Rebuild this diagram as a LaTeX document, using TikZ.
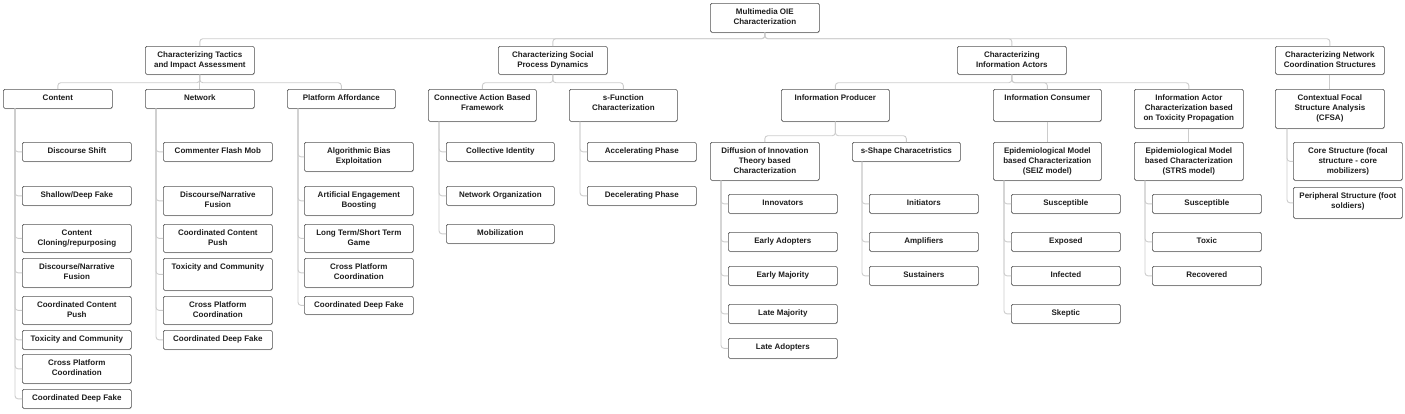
\documentclass[tikz,border=0pt]{standalone}
\usepackage{fontspec}
\setmainfont{Liberation Sans}
\usetikzlibrary{shadows}
\definecolor{boxline}{HTML}{555555}
\definecolor{connline}{HTML}{CCCCCC}
\definecolor{txt}{HTML}{1E1E1E}
\newcommand\mybox[6]{\node[nbox,anchor=north west] (#1) at (#2,#3) {\parbox[c][#5pt][t]{#4pt}{\centering\rule{0pt}{11.3pt}#6}};}
\begin{document}
\begin{tikzpicture}[x=1pt,y=-1pt,
  nbox/.style={draw=boxline,fill=white,line width=0.7pt,rounded corners=1.5pt,inner sep=0pt,
    font=\fontsize{8}{10}\selectfont\bfseries,text=txt,
    drop shadow={shadow xshift=0.3pt,shadow yshift=-0.8pt,fill=black,opacity=0.2}},
  conn/.style={draw=connline,line width=0.9pt,rounded corners=3pt}]
\useasboundingbox (0,0) rectangle (1405,413);
% root and level 1
\mybox{root}{710}{3}{109}{29}{Multimedia OIE\\Characterization}
\mybox{t1}{145}{46}{109}{28}{Characterizing Tactics\\and Impact Assessment}
\mybox{t2}{498}{46}{109}{28}{Characterizing Social\\Process Dynamics}
\mybox{t3}{957}{46}{109}{28}{Characterizing\\Information Actors}
\mybox{t4}{1275}{46}{109}{28}{Characterizing Network\\Coordination Structures}
% level 2
\mybox{c}{3}{89}{109}{19}{Content}
\mybox{n}{145}{89}{109}{19}{Network}
\mybox{pa}{287}{89}{108}{19}{Platform Affordance}
\mybox{ca}{428}{89}{108}{32}{Connective Action Based\\Framework}
\mybox{sf}{569}{89}{108}{32}{s-Function\\Characterization}
\mybox{ip}{781}{89}{108}{32}{Information Producer}
\mybox{ic}{993}{89}{108}{32}{Information Consumer}
\mybox{it}{1134}{89}{109}{39}{Information Actor\\Characterization based\\on Toxicity Propagation}
\mybox{cf}{1275}{89}{109}{39}{Contextual Focal\\Structure Analysis\\(CFSA)}
% level 3
\mybox{di}{710}{142}{109}{38}{Diffusion of Innovation\\Theory based\\Characterization}
\mybox{ss}{852}{142}{108}{19}{s-Shape Characetristics}
\mybox{seiz}{993}{142}{108}{38}{Epidemiological Model\\based Characterization\\(SEIZ model)}
\mybox{strs}{1134}{142}{109}{38}{Epidemiological Model\\based Characterization\\(STRS model)}
% content leaves
\mybox{c1}{22}{142}{109}{19}{Discourse Shift}
\mybox{c2}{22}{186}{109}{19}{Shallow/Deep Fake}
\mybox{c3}{22}{224}{109}{28}{Content\\Cloning/repurposing}
\mybox{c4}{22}{258}{109}{29}{Discourse/Narrative\\Fusion}
\mybox{c5}{22}{296}{109}{28}{Coordinated Content\\Push}
\mybox{c6}{22}{330}{109}{19}{Toxicity and Community}
\mybox{c7}{22}{354}{109}{29}{Cross Platform\\Coordination}
\mybox{c8}{22}{389}{109}{19}{Coordinated Deep Fake}
% network leaves
\mybox{n1}{163}{142}{109}{19}{Commenter Flash Mob}
\mybox{n2}{163}{186}{109}{29}{Discourse/Narrative\\Fusion}
\mybox{n3}{163}{224}{109}{28}{Coordinated Content\\Push}
\mybox{n4}{163}{258}{109}{32}{Toxicity and Community}
\mybox{n5}{163}{296}{109}{28}{Cross Platform\\Coordination}
\mybox{n6}{163}{330}{109}{19}{Coordinated Deep Fake}
% platform leaves
\mybox{p1}{304}{142}{109}{29}{Algorithmic Bias\\Exploitation}
\mybox{p2}{304}{186}{109}{29}{Artificial Engagement\\Boosting}
\mybox{p3}{304}{224}{109}{28}{Long Term/Short Term\\Game}
\mybox{p4}{304}{258}{109}{29}{Cross Platform\\Coordination}
\mybox{p5}{304}{296}{109}{18}{Coordinated Deep Fake}
% connective action leaves
\mybox{a1}{446}{142}{108}{19}{Collective Identity}
\mybox{a2}{446}{186}{108}{19}{Network Organization}
\mybox{a3}{446}{224}{108}{19}{Mobilization}
% s-function leaves
\mybox{s1}{587}{142}{109}{19}{Accelerating Phase}
\mybox{s2}{587}{186}{109}{19}{Decelerating Phase}
% diffusion leaves
\mybox{d1}{728}{194}{109}{19}{Innovators}
\mybox{d2}{728}{232}{109}{19}{Early Adopters}
\mybox{d3}{728}{266}{109}{19}{Early Majority}
\mybox{d4}{728}{304}{109}{19}{Late Majority}
\mybox{d5}{728}{338}{109}{20}{Late Adopters}
% s-shape leaves
\mybox{h1}{869}{194}{109}{19}{Initiators}
\mybox{h2}{869}{232}{109}{19}{Amplifiers}
\mybox{h3}{869}{266}{109}{19}{Sustainers}
% SEIZ leaves
\mybox{e1}{1011}{194}{109}{19}{Susceptible}
\mybox{e2}{1011}{232}{109}{19}{Exposed}
\mybox{e3}{1011}{266}{109}{19}{Infected}
\mybox{e4}{1011}{304}{109}{19}{Skeptic}
% STRS leaves
\mybox{r1}{1152}{194}{109}{19}{Susceptible}
\mybox{r2}{1152}{232}{109}{19}{Toxic}
\mybox{r3}{1152}{266}{109}{19}{Recovered}
% CFSA leaves
\mybox{f1}{1293}{142}{109}{38}{Core Structure (focal\\structure - core\\mobilizers)}
\mybox{f2}{1293}{187}{109}{31}{Peripheral Structure (foot\\soldiers)}
% tree connectors
\foreach \k in {t1,t2,t3,t4}
  \draw[conn] (root.south) -- ([yshift=-6pt]root.south) -| (\k.north);
\foreach \k in {c,pa}
  \draw[conn] (t1.south) -- ([yshift=-8pt]t1.south) -| (\k.north);
\draw[conn] (t1.south) -- (n.north);
\foreach \k in {ca,sf}
  \draw[conn] (t2.south) -- ([yshift=-8pt]t2.south) -| (\k.north);
\foreach \k in {ip,ic,it}
  \draw[conn] (t3.south) -- ([yshift=-8pt]t3.south) -| (\k.north);
\draw[conn] (t4.south) -- (cf.north);
\foreach \k in {di,ss}
  \draw[conn] (ip.south) -- ([yshift=-14pt]ip.south) -| (\k.north);
\draw[conn] (ic.south) -- (seiz.north);
\draw[conn] (it.south) -- (strs.north);
% list connectors
\foreach \k in {c1,c2,c3,c4,c5,c6,c7,c8}
  \draw[conn] ([xshift=12pt]c.south west) |- (\k.west);
\foreach \k in {n1,n2,n3,n4,n5,n6}
  \draw[conn] ([xshift=11pt]n.south west) |- (\k.west);
\foreach \k in {p1,p2,p3,p4,p5}
  \draw[conn] ([xshift=11pt]pa.south west) |- (\k.west);
\foreach \k in {a1,a2,a3}
  \draw[conn] ([xshift=11pt]ca.south west) |- (\k.west);
\foreach \k in {s1,s2}
  \draw[conn] ([xshift=11pt]sf.south west) |- (\k.west);
\foreach \k in {d1,d2,d3,d4,d5}
  \draw[conn] ([xshift=11pt]di.south west) |- (\k.west);
\foreach \k in {h1,h2,h3}
  \draw[conn] ([xshift=10pt]ss.south west) |- (\k.west);
\foreach \k in {e1,e2,e3,e4}
  \draw[conn] ([xshift=11pt]seiz.south west) |- (\k.west);
\foreach \k in {r1,r2,r3}
  \draw[conn] ([xshift=11pt]strs.south west) |- (\k.west);
\foreach \k in {f1,f2}
  \draw[conn] ([xshift=12pt]cf.south west) |- (\k.west);
\end{tikzpicture}
\end{document}
